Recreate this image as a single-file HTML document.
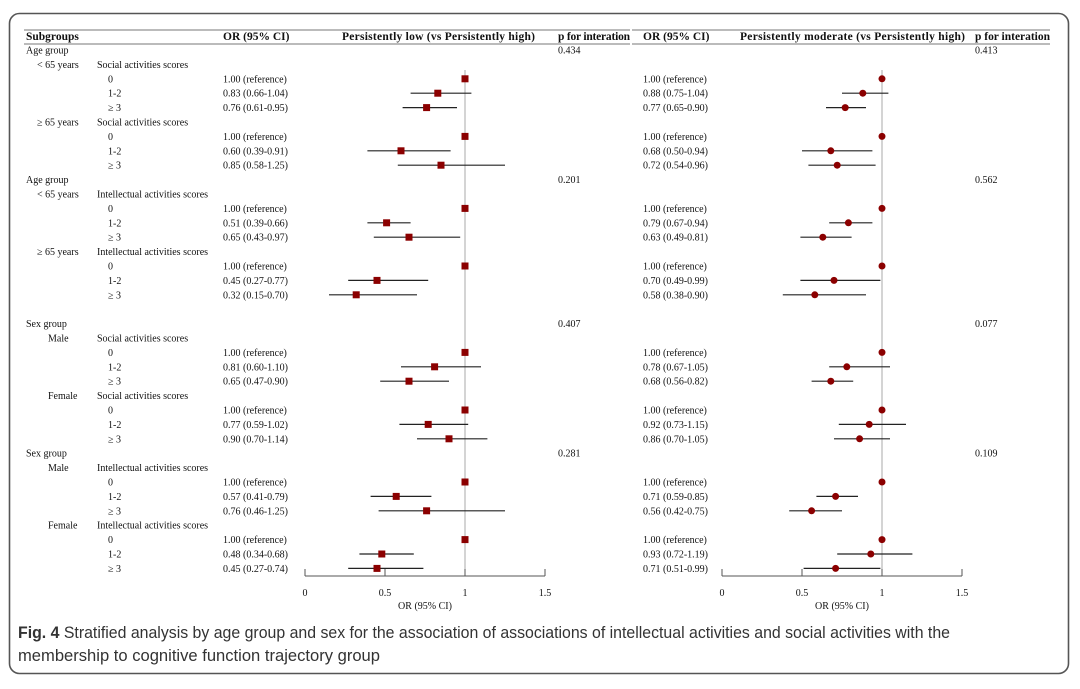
<!DOCTYPE html>
<html><head><meta charset="utf-8">
<style>
html,body{margin:0;padding:0;background:#fff;}
svg{display:block;}
.t{font-family:"Liberation Serif",serif;font-size:10px;fill:#111;}
.h{font-family:"Liberation Serif",serif;font-size:11.5px;font-weight:bold;fill:#111;}
.c{font-family:"Liberation Sans Narrow","Liberation Sans",sans-serif;font-size:17px;fill:#333;}
</style></head>
<body>
<svg id="fig" width="1080" height="689" viewBox="0 0 1080 689">
<rect x="9.5" y="13.5" width="1059" height="660" rx="10" fill="none" stroke="#555" stroke-width="1.6"/>
<g>
<line x1="24" y1="30" x2="630" y2="30" stroke="#777" stroke-width="1"/>
<line x1="632" y1="30" x2="1050" y2="30" stroke="#777" stroke-width="1"/>
<line x1="24" y1="44" x2="630" y2="44" stroke="#777" stroke-width="1"/>
<line x1="632" y1="44" x2="1050" y2="44" stroke="#777" stroke-width="1"/>
<text class="h" x="26" y="40">Subgroups</text>
<text class="h" x="223" y="40">OR (95% CI)</text>
<text class="h" x="342" y="40" textLength="193">Persistently low (vs Persistently high)</text>
<text class="h" x="558" y="40" textLength="72">p for interation</text>
<text class="h" x="643" y="40">OR (95% CI)</text>
<text class="h" x="740" y="40" textLength="225">Persistently moderate (vs Persistently high)</text>
<text class="h" x="975" y="40" textLength="75">p for interation</text>
</g>
<g id="rows"></g>
<g id="plots"></g>
<text class="c" x="18" y="638" textLength="932" lengthAdjust="spacingAndGlyphs"><tspan font-weight="bold">Fig. 4</tspan> Stratified analysis by age group and sex for the association of associations of intellectual activities and social activities with the</text>
<text class="c" x="18" y="661" textLength="362" lengthAdjust="spacingAndGlyphs">membership to cognitive function trajectory group</text>
</svg>
<script>
const groupLabels = {0:"Age group",9:"Age group",19:"Sex group",28:"Sex group"};
const subLabels = {1:"< 65 years",5:"\u2265 65 years",10:"< 65 years",14:"\u2265 65 years",20:"Male",24:"Female",29:"Male",33:"Female"};
const actLabels = {1:"Social activities scores",5:"Social activities scores",10:"Intellectual activities scores",14:"Intellectual activities scores",20:"Social activities scores",24:"Social activities scores",29:"Intellectual activities scores",33:"Intellectual activities scores"};
const pLeft = {0:"0.434",9:"0.201",19:"0.407",28:"0.281"};
const pRight = {0:"0.413",9:"0.562",19:"0.077",28:"0.109"};
const dataRows = [2,3,4,6,7,8,11,12,13,15,16,17,21,22,23,25,26,27,30,31,32,34,35,36];
const levels = ["0","1-2","\u2265 3"];
const leftOR = [1,0.83,0.76,1,0.60,0.85,1,0.51,0.65,1,0.45,0.32,1,0.81,0.65,1,0.77,0.90,1,0.57,0.76,1,0.48,0.45];
const leftLo = [null,0.66,0.61,null,0.39,0.58,null,0.39,0.43,null,0.27,0.15,null,0.60,0.47,null,0.59,0.70,null,0.41,0.46,null,0.34,0.27];
const leftHi = [null,1.04,0.95,null,0.91,1.25,null,0.66,0.97,null,0.77,0.70,null,1.10,0.90,null,1.02,1.14,null,0.79,1.25,null,0.68,0.74];
const rightOR = [1,0.88,0.77,1,0.68,0.72,1,0.79,0.63,1,0.70,0.58,1,0.78,0.68,1,0.92,0.86,1,0.71,0.56,1,0.93,0.71];
const rightLo = [null,0.75,0.65,null,0.50,0.54,null,0.67,0.49,null,0.49,0.38,null,0.67,0.56,null,0.73,0.7,null,0.59,0.42,null,0.72,0.51];
const rightHi = [null,1.04,0.90,null,0.94,0.96,null,0.94,0.81,null,0.99,0.90,null,1.05,0.82,null,1.15,1.05,null,0.85,0.75,null,1.19,0.99];
const ticks = [0,0.5,1,1.5];
const tickLabels = ["0","0.5","1","1.5"];

const NS="http://www.w3.org/2000/svg";
const rowY = i => 50 + 14.4*i;
const xL = v => 305 + 160*v;
const xR = v => 722 + 160*v;
function mk(tag, attrs, parent){const e=document.createElementNS(NS,tag);for(const k in attrs)e.setAttribute(k,attrs[k]);parent.appendChild(e);return e;}
function txt(x,y,s,parent){const e=mk("text",{x:x,y:y,class:"t"},parent);e.textContent=s;return e;}
const rows=document.getElementById("rows");
const plots=document.getElementById("plots");

for(const i in groupLabels){const e=txt(26,rowY(i)+3.5,groupLabels[i],rows);

}
for(const i in subLabels){const e=txt(subLabels[i].length>7?37:48,rowY(i)+3.5,subLabels[i],rows);


const a=txt(97,rowY(i)+3.5,actLabels[i],rows);

}
for(const i in pLeft){const e=txt(558,rowY(i)+3.5,pLeft[i],rows);


const f=txt(975,rowY(i)+3.5,pRight[i],rows);

}

function orText(o,l,h){ if(l===null) return "1.00 (reference)"; const fmt=v=>(Math.round(v*100)/100).toFixed(2); return fmt(o)+" ("+fmt(l)+"-"+fmt(h)+")";}

[[xL,"left"],[xR,"right"]].forEach(([xf,side])=>{
 const g=mk("g",{},plots);
 
 
 const ref=mk("line",{x1:xf(1),x2:xf(1),y1:70,y2:576,stroke:"#aaa","stroke-width":1},g);
 
 
 mk("line",{x1:xf(ticks[0]),x2:xf(ticks[ticks.length-1]),y1:576,y2:576,stroke:"#555","stroke-width":1},g);
 ticks.forEach((t,k)=>{
  mk("line",{x1:xf(t),x2:xf(t),y1:569,y2:576,stroke:"#555","stroke-width":1},g);
  const tl=txt(xf(t),596,tickLabels[k],g);
  tl.setAttribute("text-anchor","middle");
  tl.setAttribute("font-size","9");
  
  
 });
 const at=txt(xf(0.75),609,"OR (95% CI)",g);
 at.setAttribute("text-anchor","middle");
 at.setAttribute("font-size","9");
 
 
});

dataRows.forEach((r,k)=>{
 const y=rowY(r);
 const lv=txt(108,y+3.5,levels[k%3],rows);
 
 
 const a=txt(223,y+3.5,orText(leftOR[k],leftLo[k],leftHi[k]),rows);
 
 
 const b=txt(643,y+3.5,orText(rightOR[k],rightLo[k],rightHi[k]),rows);
 
 
 if(leftLo[k]!==null){
  const l=mk("line",{x1:xL(leftLo[k]),x2:xL(leftHi[k]),y1:y,y2:y,stroke:"#222","stroke-width":1.2},plots);
  
  
 }
 const s=mk("rect",{x:xL(leftOR[k])-3.5,y:y-3.5,width:7,height:7,fill:"#8b0000"},plots);
 
 
 if(rightLo[k]!==null){
  const l=mk("line",{x1:xR(rightLo[k]),x2:xR(rightHi[k]),y1:y,y2:y,stroke:"#222","stroke-width":1.2},plots);
  
  
 }
 const c=mk("circle",{cx:xR(rightOR[k]),cy:y,r:3.5,fill:"#8b0000"},plots);
 
 
});
</script>
</body></html>
